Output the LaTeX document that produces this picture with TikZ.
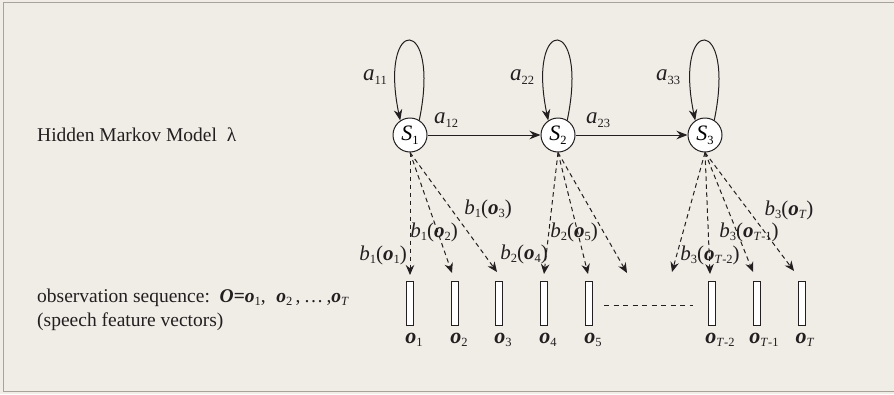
\documentclass[tikz,border=0pt]{standalone}
\usepackage{fontspec}
\setmainfont{Liberation Serif}
\usetikzlibrary{arrows.meta}
\definecolor{bgcol}{HTML}{F0EDE7}
\definecolor{framecol}{HTML}{A8A29B}
\definecolor{inkcol}{HTML}{231F20}
\newcommand\ix[1]{\textit{#1}}
\newcommand\bo{\textbf{\textit{o}}}
% small lowered index, sized independently of the carrier letter
\newcommand\lowr[1]{\raisebox{-3.6pt}{\fontsize{12.5}{13}\selectfont #1}}
\begin{document}
\begin{tikzpicture}[x=1pt,y=-1pt,
  state/.style={circle,draw=inkcol,fill=white,line width=1pt,minimum size=34pt,inner sep=0pt,
    font=\fontsize{22}{24}\selectfont},
  obsbox/.style={draw=inkcol,fill=white,line width=0.9pt,minimum width=6.5pt,minimum height=44pt,inner sep=0pt},
  lbl/.style={inner sep=0pt,text=inkcol,font=\fontsize{21}{23}\selectfont},
  albl/.style={lbl,font=\fontsize{23}{25}\selectfont},
  olbl/.style={lbl,anchor=base,font=\fontsize{22}{24}\selectfont},
  caption/.style={inner sep=0pt,anchor=base west,text=inkcol},
  trans/.style={draw=inkcol,-{Stealth[length=11pt,width=8.5pt]},line width=1pt},
  emit/.style={draw=inkcol,-{Stealth[length=10pt,width=8.5pt]},line width=1pt,dash pattern=on 4.5pt off 3.5pt},
]
% canvas and frame
\fill[bgcol] (0,0) rectangle (894,394);
\useasboundingbox (0,0) rectangle (894,394);
\draw[framecol,line width=1.5pt] (894,2.5) -- (3.5,2.5) -- (3.5,391.5) -- (894,391.5);

% captions
\node[caption,font=\fontsize{19.5}{22}\selectfont] (hmm) at (37,141) {Hidden Markov Model\hspace{0.5em}λ};
\node[caption,font=\fontsize{19.5}{22}\selectfont] (obs) at (37,302)
  {observation sequence:\hspace{0.5em}\textbf{\textit{O}}\textbf{=}\bo\lowr{1},\hspace{0.55em}\bo\lowr{2}\,,\,\ldots\,,\bo\lowr{\ix{T}}};
\node[caption,font=\fontsize{19.5}{22}\selectfont] (feat) at (37,326) {(speech feature vectors)};

% hidden states
\node[state] (S1) at (410,135) {\ix{S}\lowr{1}};
\node[state] (S2) at (558,135) {\ix{S}\lowr{2}};
\node[state] (S3) at (705,135) {\ix{S}\lowr{3}};

% self transitions
\foreach \s in {S1,S2,S3}
  \draw[trans] (\s.58) .. controls +(22,-106) and +(-22,-106) .. (\s.124);

% forward transitions
\draw[trans] (S1) -- (S2);
\draw[trans] (S2) -- (S3);

\node[albl] (a11) at (375,77) {\ix{a}\lowr{11}};
\node[albl] (a12) at (446,120) {\ix{a}\lowr{12}};
\node[albl] (a22) at (522,77) {\ix{a}\lowr{22}};
\node[albl] (a23) at (598,120) {\ix{a}\lowr{23}};
\node[albl] (a33) at (668,77) {\ix{a}\lowr{33}};

% observation vectors
\foreach \n/\x in {1/410,2/455,3/499,4/544,5/589,6/712,7/757,8/802}
  \node[obsbox] (v\n) at (\x,303) {};

\node[olbl] (o1) at ([xshift=4pt]v1.south |- 0,343) {\bo\lowr{1}};
\node[olbl] (o2) at ([xshift=4pt]v2.south |- 0,343) {\bo\lowr{2}};
\node[olbl] (o3) at ([xshift=4pt]v3.south |- 0,343) {\bo\lowr{3}};
\node[olbl] (o4) at ([xshift=4pt]v4.south |- 0,343) {\bo\lowr{4}};
\node[olbl] (o5) at ([xshift=4pt]v5.south |- 0,343) {\bo\lowr{5}};
\node[olbl] (o6) at ([xshift=8pt]v6.south |- 0,343) {\bo\lowr{\ix{T}-2}};
\node[olbl] (o7) at ([xshift=7pt]v7.south |- 0,343) {\bo\lowr{\ix{T}-1}};
\node[olbl] (o8) at ([xshift=3pt]v8.south |- 0,343) {\bo\lowr{\ix{T}}};

% gap in the sequence
\coordinate (g1) at (604,305);
\coordinate (g2) at (693,305);
\draw[inkcol,line width=0.9pt,dash pattern=on 5pt off 4.5pt] (g1) -- (g2);

% emission targets
\coordinate (e1) at (410,275);
\coordinate (e2) at (452,273);
\coordinate (e3) at (497,272);
\coordinate (e4) at (544,274);
\coordinate (e5) at (588,274);
\coordinate (e6) at (627,273);
\coordinate (e7) at (672,272);
\coordinate (e8) at (710,274);
\coordinate (e9) at (753,272);
\coordinate (e10) at (794,271);

% emissions
\foreach \t in {e1,e2,e3} \draw[emit] (S1.south) -- (\t);
\foreach \t in {e4,e5,e6} \draw[emit] (S2.south) -- (\t);
\foreach \t in {e7,e8,e9,e10} \draw[emit] (S3.south) -- (\t);

\node[lbl] (b11) at (383,255) {\ix{b}\lowr{1}(\bo\lowr{1})};
\node[lbl] (b12) at (434,232) {\ix{b}\lowr{1}(\bo\lowr{2})};
\node[lbl] (b13) at (488,209) {\ix{b}\lowr{1}(\bo\lowr{3})};
\node[lbl] (b24) at (524,254) {\ix{b}\lowr{2}(\bo\lowr{4})};
\node[lbl] (b25) at (574,232) {\ix{b}\lowr{2}(\bo\lowr{5})};
\node[lbl] (b36) at (710,255) {\ix{b}\lowr{3}(\bo\lowr{\ix{T}-2})};
\node[lbl] (b37) at (749,232) {\ix{b}\lowr{3}(\bo\lowr{\ix{T}-1})};
\node[lbl] (b38) at (789,210) {\ix{b}\lowr{3}(\bo\lowr{\ix{T}})};
\end{tikzpicture}
\end{document}
